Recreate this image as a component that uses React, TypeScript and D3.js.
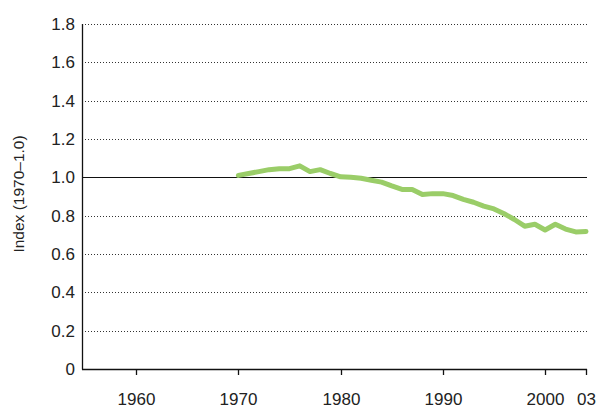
import React, { useEffect, useRef } from "react";
import * as d3 from "d3";

const years = [
  1970, 1971, 1972, 1973, 1974, 1975, 1976, 1977, 1978, 1979,
  1980, 1981, 1982, 1983, 1984, 1985, 1986, 1987, 1988, 1989,
  1990, 1991, 1992, 1993, 1994, 1995, 1996, 1997, 1998, 1999,
  2000, 2001, 2002, 2003, 2004,
];
const indexValues = [
  1.01, 1.02, 1.03, 1.04, 1.045, 1.045, 1.06, 1.03, 1.04, 1.02,
  1.003, 1.0, 0.995, 0.985, 0.975, 0.955, 0.937, 0.937, 0.91, 0.915,
  0.915, 0.905, 0.885, 0.87, 0.85, 0.835, 0.81, 0.78, 0.745, 0.755,
  0.725, 0.755, 0.73, 0.715, 0.718,
];
const xTicks = [1960, 1970, 1980, 1990, 2000, 2004];
const xTickLabels = ["1960", "1970", "1980", "1990", "2000", "03"];
const yTicks = [0, 0.2, 0.4, 0.6, 0.8, 1.0, 1.2, 1.4, 1.6, 1.8];
const yTickLabels = ["0", "0.2", "0.4", "0.6", "0.8", "1.0", "1.2", "1.4", "1.6", "1.8"];

const W = 598;
const H = 410;
const FONT = "'Liberation Sans', Arial, sans-serif";

const App = () => {
  const ref = useRef<SVGSVGElement>(null);

  useEffect(() => {
    const svg = d3.select(ref.current);
    svg.selectAll("*").remove();

    const left = 82;
    const right = 587;
    const top = 24;
    const bottom = 369;

    const x = d3.scaleLinear().domain([1954.7, 2004]).range([left, 586]);
    const y = d3.scaleLinear().domain([0, 1.8]).range([bottom, top]);

    // dotted gridlines
    svg
      .append("g")
      .selectAll("line")
      .data(yTicks.filter((d) => d !== 0 && d !== 1.0))
      .enter()
      .append("line")
      .attr("x1", left)
      .attr("x2", right)
      .attr("y1", (d) => Math.round(y(d)) + 0.5)
      .attr("y2", (d) => Math.round(y(d)) + 0.5)
      .attr("stroke", "#333")
      .attr("stroke-width", 1)
      .attr("stroke-dasharray", "1,2");

    // baseline 1.0
    svg
      .append("line")
      .attr("x1", left)
      .attr("x2", right)
      .attr("y1", Math.round(y(1.0)) + 0.5)
      .attr("y2", Math.round(y(1.0)) + 0.5)
      .attr("stroke", "#111")
      .attr("stroke-width", 1.2);

    // y labels
    svg
      .append("g")
      .selectAll("text")
      .data(yTicks)
      .enter()
      .append("text")
      .attr("x", 75)
      .attr("y", (d) => y(d))
      .attr("dy", "0.36em")
      .attr("text-anchor", "end")
      .attr("font-family", FONT)
      .attr("font-size", 17)
      .attr("fill", "#222")
      .text((d, i) => yTickLabels[i]);

    // axes lines
    svg
      .append("line")
      .attr("x1", left + 0.5)
      .attr("x2", left + 0.5)
      .attr("y1", top)
      .attr("y2", bottom + 0.5)
      .attr("stroke", "#111")
      .attr("stroke-width", 1.3);
    svg
      .append("line")
      .attr("x1", left)
      .attr("x2", right)
      .attr("y1", bottom + 0.5)
      .attr("y2", bottom + 0.5)
      .attr("stroke", "#111")
      .attr("stroke-width", 1.3);

    // x ticks
    const xt = svg
      .append("g")
      .selectAll("g")
      .data(xTicks)
      .enter()
      .append("g")
      .attr("transform", (d) => `translate(${Math.round(x(d)) + 0.5},0)`);
    xt.append("line")
      .attr("y1", bottom)
      .attr("y2", bottom + 6)
      .attr("stroke", "#111")
      .attr("stroke-width", 1.3);
    xt.append("text")
      .attr("y", 405)
      .attr("text-anchor", "middle")
      .attr("font-family", FONT)
      .attr("font-size", 17)
      .attr("fill", "#222")
      .text((d, i) => xTickLabels[i]);

    // y axis title
    svg
      .append("text")
      .attr("transform", `translate(24,${194}) rotate(-90)`)
      .attr("text-anchor", "middle")
      .attr("font-family", FONT)
      .attr("font-size", 15.5)
      .attr("fill", "#222")
      .text("Index (1970\u20131.0)");

    // series line
    const line = d3
      .line<number>()
      .x((d, i) => x(years[i]))
      .y((d) => y(d));
    svg
      .append("path")
      .datum(indexValues)
      .attr("d", line)
      .attr("fill", "none")
      .attr("stroke", "#9ACD68")
      .attr("stroke-width", 5)
      .attr("stroke-linejoin", "round")
      .attr("stroke-linecap", "round");
  }, []);

  return (
    <svg
      ref={ref}
      width={W}
      height={H}
      style={{ position: "absolute", left: 0, top: 0, background: "#fff" }}
    />
  );
};

export default App;
